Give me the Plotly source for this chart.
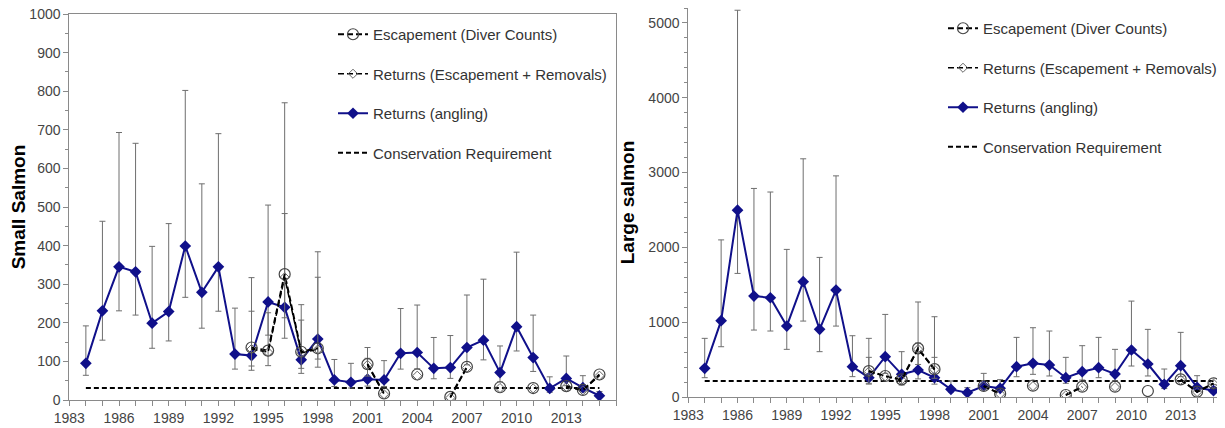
import plotly.graph_objects as go

years = list(range(1984, 2016))

# ---------------- Small salmon (left panel) ----------------
small_angling = [95, 231, 345, 332, 199, 229, 399, 279, 345, 119, 115, 254, 240, 104, 158,
                 52, 46, 54, 52, 121, 123, 82, 84, 136, 155, 71, 190, 110, 30, 56, 32, 11]
small_angling_hi = [192, 463, 693, 665, 398, 457, 802, 560, 690, 238, 230, 505, 483, 207, 318,
                    105, 95, 108, 102, 237, 246, 162, 167, 272, 313, 140, 383, 220, 60, 114, 63, 22]
small_angling_lo = [64, 155, 231, 220, 134, 153, 266, 186, 230, 80, 77, 168, 160, 69, 106,
                    35, 31, 36, 35, 80, 81, 55, 56, 91, 104, 47, 127, 74, 20, 37, 21, 7]

small_esc_years = [1994, 1995, 1996, 1997, 1998, 2001, 2002, 2004, 2006, 2007, 2009, 2011, 2013, 2014, 2015]
small_esc = [136, 128, 326, 125, 134, 93, 17, 66, 8, 86, 33, 31, 36, 26, 66]
small_ret_years = [1994, 1995, 1996, 1997, 1998, 2001, 2002, 2004, 2006, 2007, 2009, 2011, 2013, 2014, 2015]
small_ret = [132, 124, 318, 122, 131, 91, 15, 63, 6, 84, 31, 30, 34, 25, 63]
small_ret_err_years = [1994, 1995, 1996, 1997, 1998, 2001]
small_ret_err_hi = [317, 226, 770, 247, 384, 136]
small_ret_err_lo = [88, 89, 213, 82, 85, 62]
small_cr = 31

# ---------------- Large salmon (right panel) ----------------
large_angling = [383, 1020, 2498, 1349, 1327, 948, 1541, 904, 1429, 405, 258, 539, 303, 361, 258,
                 102, 58, 147, 116, 405, 450, 427, 258, 338, 392, 307, 628, 441, 169, 419, 129, 84]
large_angling_hi = [784, 2100, 5170, 2788, 2740, 1973, 3184, 1866, 2956, 819, 530, 1104, 606, 722, 530,
                    215, 125, 316, 232, 797, 926, 882, 530, 686, 797, 637, 1282, 904, 374, 864, 285, 168]
large_angling_lo = [258, 672, 1652, 895, 882, 637, 1015, 606, 948, 272, 172, 316, 160, 242, 172,
                    68, 39, 98, 78, 271, 303, 281, 183, 227, 258, 218, 414, 281, 113, 272, 86, 56]

large_esc_years = [1994, 1995, 1996, 1997, 1998, 2001, 2002, 2004, 2006, 2007, 2009, 2011, 2013, 2014, 2015]
large_esc = [347, 281, 236, 650, 372, 147, 45, 151, 27, 138, 138, 80, 236, 71, 183]
large_ret_years = [1994, 1995, 1996, 1997, 1998, 2001, 2002, 2004, 2006, 2007, 2009, 2013, 2014, 2015]
large_ret = [340, 275, 228, 640, 365, 142, 40, 146, 22, 133, 133, 230, 66, 178]
large_ret_err_years = [1994, 1997, 1998]
large_ret_err_hi = [784, 1270, 1073]
large_ret_err_lo = [183, 435, 250]
large_cr = 214

x_tick_vals = list(range(1983, 2016, 3))
x_tick_text = [str(v) for v in x_tick_vals]

NAVY = "#10108a"
ERR = "#6e6e6e"
FONT = "Arial, Liberation Sans, sans-serif"


def full(yrs, vals):
    m = dict(zip(yrs, vals))
    return [m.get(y) for y in years]


def add_panel(fig, xa, ya, legend, ang, ang_hi, ang_lo, esc_y, esc, ret_y, ret, rerr_y, rerr_hi, rerr_lo, cr):
    fig.add_trace(go.Scatter(
        x=[years[0], years[-1]], y=[cr, cr], mode="lines", name="Conservation Requirement",
        line=dict(color="black", width=2, dash="5px,3px"), xaxis=xa, yaxis=ya,
        legend=legend, legendgroup=legend + "d", legendrank=4))
    fig.add_trace(go.Scatter(
        x=years, y=ang, mode="lines+markers", name="Returns (angling)",
        line=dict(color=NAVY, width=2),
        marker=dict(symbol="diamond", size=9, color=NAVY),
        error_y=dict(type="data", symmetric=False,
                     array=[h - v for h, v in zip(ang_hi, ang)],
                     arrayminus=[v - l for v, l in zip(ang, ang_lo)],
                     color=ERR, thickness=1, width=3),
        xaxis=xa, yaxis=ya, legend=legend, legendgroup=legend + "c", legendrank=3))
    rmap = dict(zip(ret_y, ret))
    fig.add_trace(go.Scatter(
        x=rerr_y, y=[rmap[y] for y in rerr_y], mode="markers", showlegend=False,
        marker=dict(size=1, opacity=0),
        error_y=dict(type="data", symmetric=False,
                     array=[h - rmap[y] for h, y in zip(rerr_hi, rerr_y)],
                     arrayminus=[rmap[y] - l for l, y in zip(rerr_lo, rerr_y)],
                     color=ERR, thickness=1, width=3),
        xaxis=xa, yaxis=ya, hoverinfo="skip"))
    fig.add_trace(go.Scatter(
        x=years, y=full(esc_y, esc), mode="lines+markers", name="Escapement (Diver Counts)",
        line=dict(color="black", width=2, dash="6px,3px"),
        marker=dict(symbol="circle-open", size=11, color="#444444", line=dict(width=1.2)),
        connectgaps=False, xaxis=xa, yaxis=ya, legend=legend, legendgroup=legend + "a", legendrank=1))
    fig.add_trace(go.Scatter(
        x=years, y=full(ret_y, ret), mode="lines+markers", name="Returns (Escapement + Removals)",
        line=dict(color="black", width=1.5, dash="6px,3px"),
        marker=dict(symbol="diamond-open", size=7, color="#666666", line=dict(width=1)),
        connectgaps=False, xaxis=xa, yaxis=ya, legend=legend, legendgroup=legend + "b", legendrank=2))


fig = go.Figure()
add_panel(fig, "x", "y", "legend", small_angling, small_angling_hi, small_angling_lo,
          small_esc_years, small_esc, small_ret_years, small_ret,
          small_ret_err_years, small_ret_err_hi, small_ret_err_lo, small_cr)
add_panel(fig, "x2", "y2", "legend2", large_angling, large_angling_hi, large_angling_lo,
          large_esc_years, large_esc, large_ret_years, large_ret,
          large_ret_err_years, large_ret_err_hi, large_ret_err_lo, large_cr)

# the page body adds an 8px offset, so the figure is 8px smaller than the window
OFF = 8
W, H = 1225 - OFF, 428 - OFF


def px_x(x):
    return (x - OFF) / W


def px_y(y):
    return (H - (y - OFF)) / H


xcommon = dict(showline=True, linecolor="#8a8a8a", linewidth=1, mirror=True, automargin=False,
               ticks="outside", ticklen=5, tickcolor="#8a8a8a", showgrid=False, zeroline=False,
               tickvals=x_tick_vals, ticktext=x_tick_text, ticklabeloverflow="allow",
               tickfont=dict(family=FONT, size=14, color="#444444"),
               minor=dict(dtick=1, tick0=1983, ticks="outside", ticklen=5, tickcolor="#8a8a8a"))
ycommon = dict(showline=True, linecolor="#8a8a8a", linewidth=1, mirror=True, automargin=False,
               ticks="outside", ticklen=5, tickcolor="#8a8a8a", showgrid=False, zeroline=False,
               ticklabeloverflow="allow",
               tickfont=dict(family=FONT, size=14, color="#444444"))

legcommon = dict(font=dict(family=FONT, size=15, color="#333333"), bgcolor="rgba(0,0,0,0)",
                 borderwidth=0, traceorder="grouped", tracegroupgap=17,
                 xanchor="left", yanchor="top", itemwidth=30)

fig.update_layout(
    width=W, height=H, autosize=False,
    margin=dict(l=0, r=0, t=0, b=0, autoexpand=False),
    paper_bgcolor="white", plot_bgcolor="white",
    font=dict(family=FONT),
    xaxis=dict(xcommon, domain=[px_x(69.3), px_x(616)], range=[1983, 2016]),
    yaxis=dict(ycommon, domain=[px_y(400), px_y(14)], range=[0, 1000], dtick=100,
               minor=dict(dtick=50, ticks="outside", ticklen=3, tickcolor="#8a8a8a"),
               title=dict(text="Small Salmon", standoff=8,
                          font=dict(family=FONT, size=19, color="black", weight="bold"))),
    xaxis2=dict(xcommon, domain=[px_x(688.3), 1.0], range=[1983, 2015.7], anchor="y2"),
    yaxis2=dict(ycommon, domain=[px_y(397), min(1.0, px_y(8))], range=[0, 5200], dtick=1000,
                anchor="x2",
                minor=dict(dtick=200, ticks="outside", ticklen=3, tickcolor="#8a8a8a"),
                title=dict(text="Large salmon", standoff=8,
                           font=dict(family=FONT, size=19, color="black", weight="bold"))),
    legend=dict(legcommon, x=px_x(333), y=px_y(18)),
    legend2=dict(legcommon, x=px_x(943), y=px_y(12)),
    showlegend=True,
)

fig.write_html("out.html")
